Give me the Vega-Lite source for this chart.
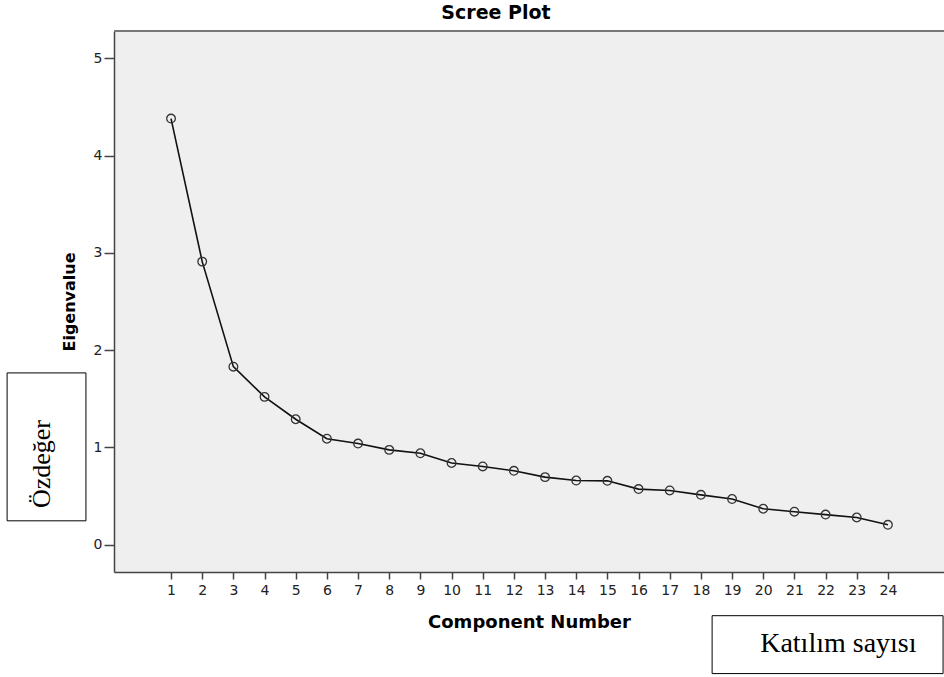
{
  "$schema": "https://vega.github.io/schema/vega-lite/v6.json",
  "width": 830,
  "height": 541,
  "autosize": {"type": "none"},
  "padding": {"left": 114, "top": 31, "right": 0, "bottom": 105},
  "background": "white",
  "config": {
    "view": {"stroke": null, "fill": "#efefef"},
    "font": "DejaVu Sans",
    "axis": {
      "grid": false,
      "labelFont": "DejaVu Sans",
      "labelFontSize": 14,
      "labelColor": "#222",
      "labelFlush": false,
      "labelOverlap": false,
      "labelBound": false,
      "titleFont": "DejaVu Sans",
      "titleFontWeight": "bold",
      "titleColor": "#000",
      "tickWidth": 1.5,
      "tickColor": "#444",
      "domainColor": "#444",
      "domainWidth": 1.5,
      "format": "d"
    },
    "axisX": {
      "titleFontSize": 18,
      "titlePadding": 16,
      "labelPadding": 4,
      "tickSize": 7
    },
    "axisY": {
      "titleFontSize": 16,
      "titlePadding": 16,
      "labelPadding": 2,
      "tickSize": 10
    }
  },
  "title": {
    "text": "Scree Plot",
    "font": "DejaVu Sans",
    "fontSize": 19,
    "fontWeight": "bold",
    "color": "#000",
    "anchor": "middle",
    "frame": "group",
    "baseline": "alphabetic",
    "dx": -33,
    "dy": 18,
    "offset": 10
  },
  "layer": [
    {
      "data": {
        "values": [
          {"component": 1, "eigenvalue": 4.38},
          {"component": 2, "eigenvalue": 2.91},
          {"component": 3, "eigenvalue": 1.83},
          {"component": 4, "eigenvalue": 1.52},
          {"component": 5, "eigenvalue": 1.29},
          {"component": 6, "eigenvalue": 1.09},
          {"component": 7, "eigenvalue": 1.04},
          {"component": 8, "eigenvalue": 0.975},
          {"component": 9, "eigenvalue": 0.94},
          {"component": 10, "eigenvalue": 0.84},
          {"component": 11, "eigenvalue": 0.805},
          {"component": 12, "eigenvalue": 0.76},
          {"component": 13, "eigenvalue": 0.695},
          {"component": 14, "eigenvalue": 0.66},
          {"component": 15, "eigenvalue": 0.657},
          {"component": 16, "eigenvalue": 0.572},
          {"component": 17, "eigenvalue": 0.558},
          {"component": 18, "eigenvalue": 0.513},
          {"component": 19, "eigenvalue": 0.47},
          {"component": 20, "eigenvalue": 0.37},
          {"component": 21, "eigenvalue": 0.34},
          {"component": 22, "eigenvalue": 0.31},
          {"component": 23, "eigenvalue": 0.28},
          {"component": 24, "eigenvalue": 0.205}
        ]
      },
      "encoding": {
        "x": {
          "field": "component",
          "type": "quantitative",
          "title": "Component Number",
          "scale": {"domain": [-0.83, 25.8], "nice": false, "zero": false},
          "axis": {"title": "Component Number", "values": [1,2,3,4,5,6,7,8,9,10,11,12,13,14,15,16,17,18,19,20,21,22,23,24]}
        },
        "y": {
          "field": "eigenvalue",
          "type": "quantitative",
          "title": "Eigenvalue",
          "scale": {"domain": [-0.28, 5.28], "nice": false, "zero": false},
          "axis": {"title": "Eigenvalue", "values": [0,1,2,3,4,5]}
        }
      },
      "layer": [
        {"mark": {"type": "line", "color": "#111", "strokeWidth": 1.6}},
        {"mark": {"type": "point", "shape": "circle", "filled": false, "stroke": "#333", "strokeWidth": 1.3, "size": 75, "opacity": 1}}
      ]
    },
    {
      "data": {"values": [{"edge": "top"}]},
      "mark": {"type": "rule", "color": "#777", "strokeWidth": 2},
      "encoding": {
        "x": {"datum": -0.83, "type": "quantitative", "title": "Component Number", "axis": {"title": "Component Number", "values": [1,2,3,4,5,6,7,8,9,10,11,12,13,14,15,16,17,18,19,20,21,22,23,24]}},
        "x2": {"datum": 25.8},
        "y": {"datum": 5.28, "type": "quantitative", "title": "Eigenvalue", "axis": {"title": "Eigenvalue", "values": [0,1,2,3,4,5]}}
      }
    },
    {
      "data": {"values": [{"note": "Özdeğer"}]},
      "layer": [
        {
          "mark": {"type": "rect", "fill": "white", "stroke": "#000", "strokeWidth": 1},
          "encoding": {
            "x": {"datum": -4.26, "type": "quantitative", "title": "Component Number", "axis": {"title": "Component Number", "values": [1,2,3,4,5,6,7,8,9,10,11,12,13,14,15,16,17,18,19,20,21,22,23,24]}},
            "x2": {"datum": -1.73},
            "y": {"datum": 1.766, "type": "quantitative", "title": "Eigenvalue", "axis": {"title": "Eigenvalue", "values": [0,1,2,3,4,5]}},
            "y2": {"datum": 0.246}
          }
        },
        {
          "mark": {"type": "text", "font": "Liberation Serif", "fontSize": 26, "fontWeight": "normal", "angle": 270, "align": "center", "baseline": "alphabetic", "color": "#000"},
          "encoding": {
            "text": {"field": "note", "type": "nominal"},
            "x": {"datum": -2.88, "type": "quantitative", "title": "Component Number", "axis": {"title": "Component Number", "values": [1,2,3,4,5,6,7,8,9,10,11,12,13,14,15,16,17,18,19,20,21,22,23,24]}},
            "y": {"datum": 0.83, "type": "quantitative", "title": "Eigenvalue", "axis": {"title": "Eigenvalue", "values": [0,1,2,3,4,5]}}
          }
        }
      ]
    },
    {
      "data": {"values": [{"note": "Katılım sayısı"}]},
      "layer": [
        {
          "mark": {"type": "rect", "fill": "white", "stroke": "#000", "strokeWidth": 1},
          "encoding": {
            "x": {"datum": 18.36, "type": "quantitative", "title": "Component Number", "axis": {"title": "Component Number", "values": [1,2,3,4,5,6,7,8,9,10,11,12,13,14,15,16,17,18,19,20,21,22,23,24]}},
            "x2": {"datum": 25.77},
            "y": {"datum": -0.729, "type": "quantitative", "title": "Eigenvalue", "axis": {"title": "Eigenvalue", "values": [0,1,2,3,4,5]}},
            "y2": {"datum": -1.324}
          }
        },
        {
          "mark": {"type": "text", "font": "Liberation Serif", "fontSize": 28, "fontWeight": "normal", "align": "center", "baseline": "alphabetic", "color": "#000"},
          "encoding": {
            "text": {"field": "note", "type": "nominal"},
            "x": {"datum": 22.41, "type": "quantitative", "title": "Component Number", "axis": {"title": "Component Number", "values": [1,2,3,4,5,6,7,8,9,10,11,12,13,14,15,16,17,18,19,20,21,22,23,24]}},
            "y": {"datum": -1.099, "type": "quantitative", "title": "Eigenvalue", "axis": {"title": "Eigenvalue", "values": [0,1,2,3,4,5]}}
          }
        }
      ]
    }
  ]
}
